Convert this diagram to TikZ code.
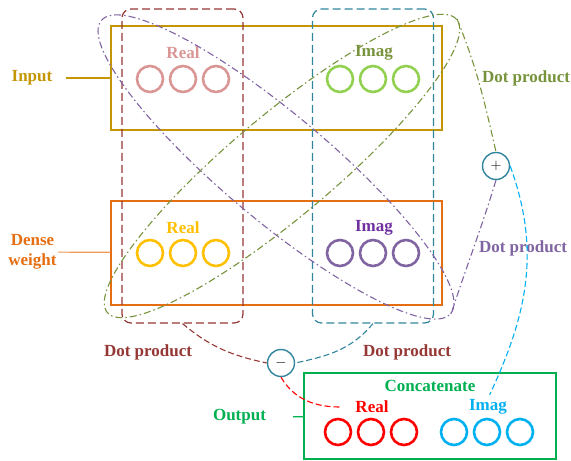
\documentclass[tikz,border=0pt]{standalone}
\usepackage{fontspec}
\setmainfont{Liberation Serif}
\usepackage{tikz}
\usetikzlibrary{positioning,shapes.geometric,calc}

\definecolor{inputc}{RGB}{196,150,5}
\definecolor{densec}{RGB}{230,110,18}
\definecolor{pinkc}{RGB}{217,150,148}
\definecolor{limec}{RGB}{146,208,80}
\definecolor{olivec}{RGB}{119,147,60}
\definecolor{yellowc}{RGB}{255,192,0}
\definecolor{purplec}{RGB}{128,100,162}
\definecolor{violetc}{RGB}{112,48,160}
\definecolor{darkredc}{RGB}{149,55,53}
\definecolor{tealc}{RGB}{49,133,156}
\definecolor{outgreen}{RGB}{0,176,80}
\definecolor{skyc}{RGB}{0,176,240}

\begin{document}
\begin{tikzpicture}[x=1pt,y=1pt,
    lbl/.style={font=\fontsize{17}{20}\selectfont\bfseries, inner sep=1pt, align=center},
    neuron/.style={circle, draw, line width=2.6pt, minimum size=26pt, inner sep=0pt},
    layerbox/.style={draw, line width=1.2pt, minimum width=331pt, minimum height=104pt},
    groupbox/.style={draw, line width=1.2pt, rounded corners=9pt, minimum width=121pt, minimum height=314pt, dash pattern=on 8pt off 4pt},
    loopshape/.style={ellipse, draw, line width=1.1pt, minimum width=456pt, minimum height=106pt, inner sep=0pt, dash pattern=on 7pt off 3pt on 1.5pt off 3pt},
    opnode/.style={circle, draw=tealc, line width=1.4pt, minimum size=27pt, inner sep=0pt, font=\fontsize{14}{14}\selectfont},
    dashline/.style={line width=1.1pt, dash pattern=on 6pt off 3pt},
    dotline/.style={line width=1.1pt, dash pattern=on 7pt off 3pt on 1.5pt off 3pt}
]
    \useasboundingbox (0,0) rectangle (571,461);

    % Capas de entrada y de pesos
    \node[layerbox, draw=inputc] (inbox) at (276.5,383) {};
    \node[layerbox, draw=densec] (densebox) at (276.5,208) {};
    \node[lbl, text=inputc] (inlbl) at (32,383) {Input};
    \node[lbl, text=densec] (denselbl) at (32.5,209) {Dense\\weight};
    \draw[inputc, line width=1.2pt, shorten <=12pt] (inlbl) -- (inbox);
    \draw[densec!70, line width=1.2pt] (denselbl) -- (densebox);

    % Neuronas de entrada
    \node[lbl, text=pinkc] (inrlbl) at (183,408) {Real};
    \node[neuron, draw=pinkc] (inr1) at (150,382) {};
    \node[neuron, draw=pinkc] (inr2) at (183,382) {};
    \node[neuron, draw=pinkc] (inr3) at (216,382) {};
    \node[lbl, text=olivec] (inilbl) at (374,408) {Imag};
    \node[neuron, draw=limec] (ini1) at (340,382) {};
    \node[neuron, draw=limec] (ini2) at (373,382) {};
    \node[neuron, draw=limec] (ini3) at (406,382) {};

    % Neuronas de pesos
    \node[lbl, text=yellowc] (dnrlbl) at (183,233) {Real};
    \node[neuron, draw=yellowc] (dnr1) at (150,208) {};
    \node[neuron, draw=yellowc] (dnr2) at (183,208) {};
    \node[neuron, draw=yellowc] (dnr3) at (216,208) {};
    \node[lbl, text=violetc] (dnilbl) at (374,233) {Imag};
    \node[neuron, draw=purplec] (dni1) at (340,208) {};
    \node[neuron, draw=purplec] (dni2) at (373,208) {};
    \node[neuron, draw=purplec] (dni3) at (406,208) {};

    % Grupos de productos
    \node[groupbox, draw=darkredc] (realgrp) at (182.5,295) {};
    \node[groupbox, draw=tealc] (imaggrp) at (373,295) {};
    \node[loopshape, draw=purplec, rotate=-40] (ploop) at (276,294) {};
    \node[loopshape, draw=olivec, rotate=40, minimum height=102pt] (gloop) at (282,295) {};

    % Operaciones
    \node[opnode] (minus) at (281,98) {$-$};
    \node[opnode] (plus) at (496,295) {$+$};
    \node[lbl, text=darkredc] (dpreal) at (148,109) {Dot product};
    \node[lbl, text=darkredc] (dpimag) at (407,109) {Dot product};
    \node[lbl, text=olivec] (dpgreen) at (526,383) {Dot product};
    \node[lbl, text=purplec] (dppurple) at (523,213) {Dot product};

    % Salida
    \node[draw=outgreen, line width=1.2pt, minimum width=252pt, minimum height=86pt] (outbox) at (430,45) {};
    \node[lbl, text=outgreen] (outlbl) at (239.5,44) {Output};
    \node[lbl, text=outgreen] (concat) at (430,75) {Concatenate};
    \node[lbl, text=red] (outrlbl) at (372,54) {Real};
    \node[neuron, draw=red] (outr1) at (338,29) {};
    \node[neuron, draw=red] (outr2) at (371,29) {};
    \node[neuron, draw=red] (outr3) at (404,29) {};
    \node[lbl, text=skyc] (outilbl) at (488,54) {Imag};
    \node[neuron, draw=skyc] (outi1) at (454,29) {};
    \node[neuron, draw=skyc] (outi2) at (487,29) {};
    \node[neuron, draw=skyc] (outi3) at (520,29) {};
    \draw[outgreen, line width=1.2pt, shorten <=26pt] (outlbl) -- (outbox);

    % Conexiones
    \draw[darkredc, dashline] (realgrp.south) to[out=-40,in=168] (minus.west);
    \draw[tealc, dashline] (imaggrp.south) to[out=-130,in=12] (minus.east);
    \draw[red, dashline, shorten >=14pt] (minus.south) to[out=-60,in=180] (outrlbl.west);
    \draw[olivec, dotline] (gloop.east) to[out=-68,in=103] (plus.north);
    \draw[purplec, dotline] (plus.south) to[out=-107,in=72] (ploop.east);
    \draw[skyc, dashline, shorten >=4pt] (plus.east) to[out=-70,in=65] (outilbl.north);
\end{tikzpicture}
\end{document}
